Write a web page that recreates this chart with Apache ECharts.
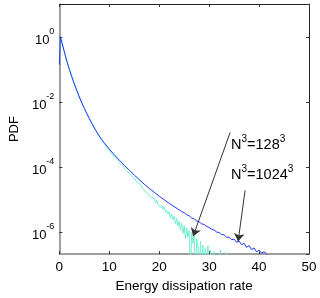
<!DOCTYPE html>
<html><head><meta charset="utf-8">
<script src="https://cdn.jsdelivr.net/npm/echarts@6/dist/echarts.min.js"></script>
<style>html,body{margin:0;padding:0;background:#fff}#c{width:320px;height:298px}</style>
</head><body><div id="c"></div>
<script>
// x tick values and y tick exponents (PDF shown on log10 scale)
const xTickValues = [0, 10, 20, 30, 40, 50];
const yTickExponents = [-6, -4, -2, 0];

// N^3 = 1024^3 : energy dissipation rate vs log10(PDF)
const x1024 = [0,0.2,0.5,1,1.5,2,2.5,3,3.5,4,4.5,5,5.5,6,6.5,7,7.5,8,8.5,9,9.5,10,10.5,11,11.5,12,
  13,14,15,16,17,18,19,20,21,22,23,24,
  24.5,25,25.5,26,26.5,27,27.5,28,28.5,29,29.5,30,30.5,31,31.5,32,32.5,33,33.5,34,34.5,35,35.5,36,36.5,37,37.5,38,38.5,39,39.5,40,40.5,41,41.5,42];
const logPdf1024 = [-0.86,0,-0.17,-0.46,-0.75,-1.00,-1.23,-1.45,-1.65,-1.85,-2.03,-2.20,-2.36,-2.51,-2.66,-2.80,-2.93,-3.05,-3.16,-3.26,-3.355,-3.45,-3.54,-3.625,-3.71,-3.79,
  -3.95,-4.10,-4.25,-4.39,-4.53,-4.66,-4.78,-4.90,-5.01,-5.12,-5.22,-5.32,
  -5.37,-5.41,-5.47,-5.50,-5.57,-5.60,-5.66,-5.69,-5.75,-5.77,-5.83,-5.86,-5.92,-5.94,-6.00,-6.02,-6.08,-6.09,-6.16,-6.16,-6.24,-6.22,-6.32,-6.28,-6.39,-6.35,-6.47,-6.42,-6.54,-6.49,-6.61,-6.56,-6.65,-6.61,-6.67,-6.75];

// N^3 = 128^3 (-7.5 marks empty bins, below the axis)
const x128 = [0,0.2,0.5,1,1.5,2,2.5,3,3.5,4,4.5,5,5.5,6,6.5,7,7.5,8,8.5,9,9.5,10,10.5,11,11.5,
  12,12.25,12.5,12.75,13,13.25,13.5,13.75,14,14.25,14.5,14.75,15,15.25,15.5,15.75,16,16.25,16.5,16.75,
  17,17.25,17.5,17.75,18,18.25,18.5,18.75,19,19.25,19.5,19.75,20,20.25,20.5,20.75,21,21.25,21.5,21.75,
  22,22.25,22.5,22.75,23,23.25,23.5,23.75,24,24.25,24.5,24.75,25,25.25,25.5,25.75,26,26.25,26.5,26.75,
  27,27.25,27.5,27.75,28,28.25,28.5,28.75,29,29.25,29.5,29.75,30,30.25,30.5,31,31.25,32,32.25,32.5,33,33.5,33.75];
const logPdf128 = [-0.86,0,-0.17,-0.46,-0.75,-1.00,-1.23,-1.45,-1.65,-1.85,-2.03,-2.20,-2.36,-2.51,-2.66,-2.80,-2.93,-3.07,-3.19,-3.30,-3.40,-3.50,-3.59,-3.68,-3.77,
  -3.86,-3.90,-3.93,-3.96,-4.03,-4.05,-4.10,-4.13,-4.21,-4.22,-4.27,-4.33,-4.34,-4.42,-4.40,-4.49,-4.55,-4.53,-4.62,-4.60,
  -4.71,-4.69,-4.80,-4.78,-4.88,-4.83,-4.94,-4.98,-4.96,-5.10,-5.02,-5.15,-5.12,-5.25,-5.18,-5.30,-5.22,-5.40,-5.33,-5.45,
  -5.38,-5.58,-5.45,-5.62,-5.52,-5.75,-5.58,-5.82,-5.66,-5.95,-5.72,-6.05,-5.80,-6.20,-5.88,-6.15,-5.95,-7.5,-6.02,-6.35,
  -6.10,-7.5,-6.20,-6.45,-7.5,-6.28,-7.5,-6.40,-7.5,-6.48,-7.5,-6.42,-7.5,-6.55,-7.5,-6.60,-7.5,-7.5,-6.55,-7.5,-7.5,-6.62,-7.5];

// annotation arrows (data coords: [x, log10 PDF])
const arrow128 = [[34.2, -2.94], [26.8, -6.13]];
const arrow1024 = [[37.2, -4.72], [35.8, -6.29]];

const FONT = 'Liberation Sans';
const chart = echarts.init(document.getElementById('c'), null, {renderer: 'canvas'});
const pair = (xs, ys) => xs.map((x, i) => [x, ys[i]]);

const tickStyle = {show: true, inside: true, length: 3, lineStyle: {color: '#333', width: 1}};

chart.setOption({
  animation: false,
  backgroundColor: '#fff',
  grid: {left: 49, right: 11, top: 4, bottom: 35, containLabel: false},
  xAxis: [
    {
      type: 'value', splitLine: {show: false}, axisTick: tickStyle,
      min: xTickValues[0], max: xTickValues[xTickValues.length - 1], interval: 10, position: 'bottom',
      axisLine: {show: true, onZero: false, lineStyle: {color: '#808080', width: 1.5}},
      axisLabel: {fontSize: 13.5, color: '#000', fontFamily: FONT, margin: 6},
      name: 'Energy dissipation rate', nameLocation: 'middle', nameGap: 19,
      nameTextStyle: {fontSize: 13.5, color: '#000', fontFamily: FONT}
    },
    {
      type: 'value', splitLine: {show: false}, axisTick: tickStyle,
      min: 0, max: 50, interval: 10, position: 'top',
      axisLine: {show: true, onZero: false, lineStyle: {color: '#222', width: 1}},
      axisLabel: {show: false}
    }
  ],
  yAxis: [
    {
      type: 'value', splitLine: {show: false}, axisTick: tickStyle,
      min: -6.68, max: 1.01, splitNumber: 4, position: 'left',
      axisLine: {show: true, onZero: false, lineStyle: {color: '#808080', width: 1.5}},
      axisLabel: {
        showMinLabel: false, showMaxLabel: false, margin: 5,
        formatter: v => yTickExponents.indexOf(v) >= 0 ? '{b|10}{e|' + v + '}' : '',
        rich: {
          b: {fontSize: 13, color: '#000', fontFamily: FONT, lineHeight: 20, verticalAlign: 'bottom'},
          e: {fontSize: 9, color: '#000', fontFamily: FONT, lineHeight: 10, verticalAlign: 'top'}
        }
      },
      name: 'PDF', nameLocation: 'middle', nameGap: 31,
      nameTextStyle: {fontSize: 13, color: '#000', fontFamily: FONT}
    },
    {
      type: 'value', splitLine: {show: false}, axisTick: tickStyle,
      min: -6.68, max: 1.01, splitNumber: 4, position: 'right',
      axisLine: {show: true, onZero: false, lineStyle: {color: '#222', width: 1}},
      axisLabel: {show: false}
    }
  ],
  series: [
    {
      name: 'N3=128^3', type: 'line', data: pair(x128, logPdf128), showSymbol: false, symbol: 'none',
      clip: true, lineStyle: {color: '#72f0d2', width: 1}, z: 2
    },
    {
      name: 'N3=1024^3', type: 'line', data: pair(x1024, logPdf1024), showSymbol: false, symbol: 'none',
      clip: true, lineStyle: {color: '#2236f2', width: 1}, z: 3,
      markLine: {
        silent: true, symbol: ['none', 'arrow'], symbolSize: 8,
        label: {show: false},
        lineStyle: {color: '#333', width: 1, type: 'solid'},
        data: [
          [{coord: arrow128[0]}, {coord: arrow128[1]}],
          [{coord: arrow1024[0]}, {coord: arrow1024[1]}]
        ]
      }
    }
  ],
  graphic: [
    {
      type: 'text', left: 231, top: 134,
      style: {
        text: '{n|N}{s|3}{n|=128}{s|3}',
        rich: {
          n: {fontSize: 14.5, fontFamily: FONT, fill: '#000', lineHeight: 18, verticalAlign: 'bottom'},
          s: {fontSize: 10, fontFamily: FONT, fill: '#000', lineHeight: 10, verticalAlign: 'top'}
        }
      }
    },
    {
      type: 'text', left: 231, top: 164,
      style: {
        text: '{n|N}{s|3}{n|=1024}{s|3}',
        rich: {
          n: {fontSize: 14.5, fontFamily: FONT, fill: '#000', lineHeight: 18, verticalAlign: 'bottom'},
          s: {fontSize: 10, fontFamily: FONT, fill: '#000', lineHeight: 10, verticalAlign: 'top'}
        }
      }
    }
  ]
});
</script></body></html>
